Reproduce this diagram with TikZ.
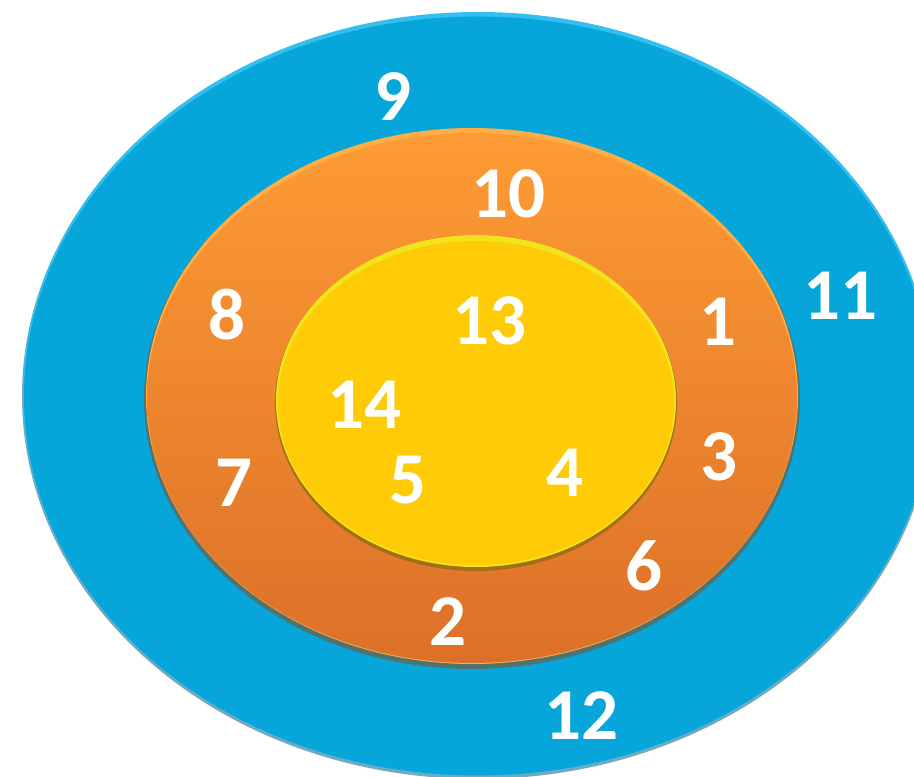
\documentclass[tikz,border=0pt]{standalone}
\usepackage{fontspec}
\setmainfont{Carlito}
\definecolor{bluemain}{HTML}{07A6DA}
\definecolor{bluerim}{HTML}{34C0EE}
\definecolor{blueshadow}{HTML}{1A6F90}
\definecolor{orangetop}{HTML}{FE9B34}
\definecolor{orangebot}{HTML}{DC7028}
\definecolor{orangerim}{HTML}{FFAE45}
\definecolor{orangeshadow}{HTML}{8A4A20}
\definecolor{yellowmain}{HTML}{FECB06}
\definecolor{yellowrim}{HTML}{F2E31C}
\definecolor{yellowshadow}{HTML}{8A6A10}
\begin{document}
\begin{tikzpicture}[x=1pt,y=1pt,
  lbl/.style={text=white,font=\fontsize{73}{73}\selectfont\bfseries,inner sep=0pt}]
\useasboundingbox (0,0) rectangle (914,777);
\fill[white] (0,0) rectangle (914,777);
% outer blue ellipse
\fill[blueshadow,opacity=0.6] (478,381) ellipse [x radius=456,y radius=383];
\fill[bluerim] (478,383) ellipse [x radius=455,y radius=382];
\fill[bluemain] (478,381) ellipse [x radius=454,y radius=379.5];
% middle orange ellipse
\fill[orangeshadow,opacity=0.55] (472,378) ellipse [x radius=328,y radius=270];
\fill[orangerim] (472,381) ellipse [x radius=326,y radius=268];
\shade[top color=orangetop,bottom color=orangebot] (472,379) ellipse [x radius=325,y radius=265];
% inner yellow ellipse
\fill[yellowshadow,opacity=0.7] (476,374) ellipse [x radius=201,y radius=168];
\fill[yellowrim] (476,376) ellipse [x radius=200,y radius=166];
\fill[yellowmain] (476,374) ellipse [x radius=198,y radius=162];
% labels
\node[lbl] (n9)  at (393,680) {9};
\node[lbl] (n10) at (508,583) {10};
\node[lbl] (n11) at (840,481) {11};
\node[lbl] (n8)  at (227,462) {8};
\node[lbl] (n13) at (489,456) {13};
\node[lbl] (n1)  at (718,455) {1};
\node[lbl] (n14) at (364,372) {14};
\node[lbl] (n3)  at (719,320) {3};
\node[lbl] (n5)  at (408,297) {5};
\node[lbl] (n4)  at (565,304) {4};
\node[lbl] (n7)  at (234,294) {7};
\node[lbl] (n6)  at (644,211) {6};
\node[lbl] (n2)  at (448,155) {2};
\node[lbl] (n12) at (581,61)  {12};
\end{tikzpicture}
\end{document}
